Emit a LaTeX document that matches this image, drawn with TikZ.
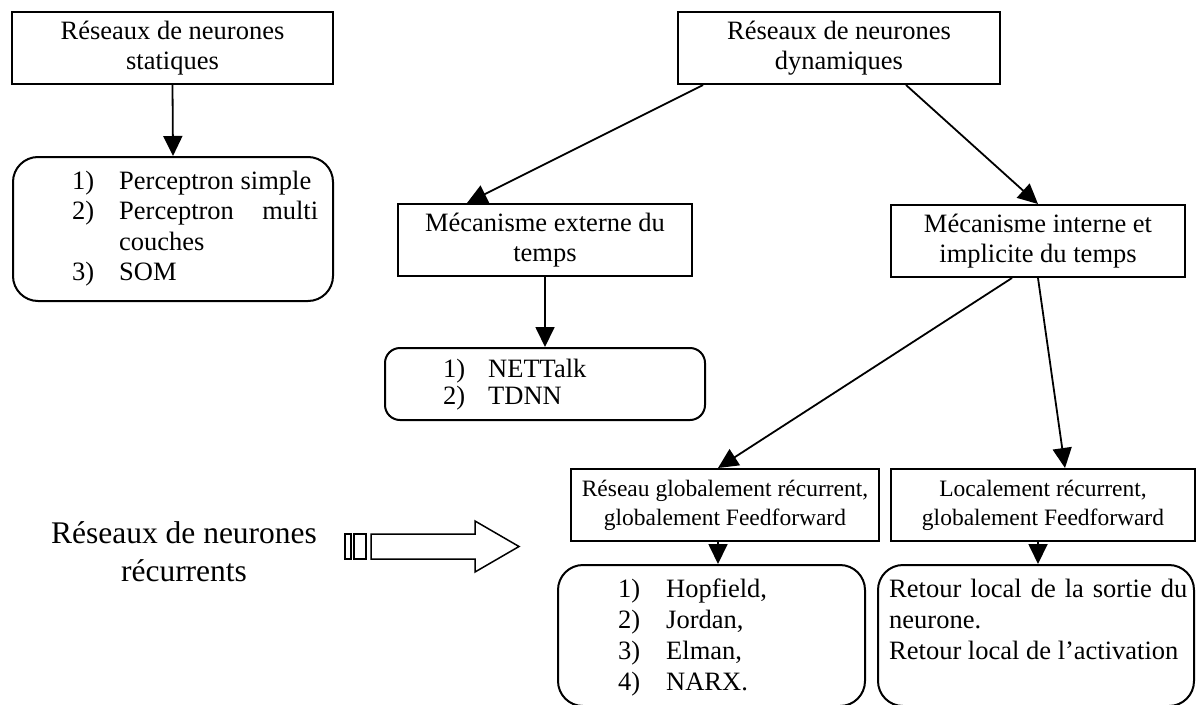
\documentclass[tikz,border=0pt]{standalone}
\usepackage{fontspec}
\setmainfont{Liberation Serif}
\usetikzlibrary{arrows.meta}
\newcommand\fsmain{\fontsize{26.5}{30.5}\selectfont}
\newcommand\fssmall{\fontsize{23.5}{29}\selectfont}
\newcommand\fsbig{\fontsize{31.5}{38}\selectfont}
\begin{document}
\begin{tikzpicture}[x=1pt,y=-1pt]
\tikzset{
  rect/.style={draw, line width=2pt, inner sep=0pt, align=center, font=\fsmain},
  rlist/.style={draw, line width=2pt, rounded corners=25pt, inner sep=0pt},
  conn/.style={line width=1.8pt, -{Triangle[length=20pt,width=19pt]}},
  txt/.style={inner sep=0pt, font=\fsmain, anchor=base west},
  hollow/.style={draw, line width=1.5pt}
}
\fill[white] (0,0) rectangle (1196,704);
\useasboundingbox (0,0) rectangle (1196,704);

% rectangular boxes
\node[rect, minimum width=321pt, minimum height=72pt] (stat) at (172.5,48) {Réseaux de neurones\\statiques};
\node[rect, minimum width=322pt, minimum height=72pt] (dyn) at (839,48) {Réseaux de neurones\\dynamiques};
\node[rect, minimum width=294pt, minimum height=72pt] (ext) at (545,240) {Mécanisme externe du\\temps};
\node[rect, minimum width=294pt, minimum height=72pt] (int) at (1038,241) {Mécanisme interne et\\implicite du temps};
\node[rect, font=\fssmall, minimum width=308pt, minimum height=72pt] (glob) at (725,505) {Réseau globalement récurrent,\\globalement Feedforward};
\node[rect, font=\fssmall, minimum width=304pt, minimum height=72pt] (loc) at (1043,505) {Localement récurrent,\\globalement Feedforward};

% rounded list boxes
\node[rlist, minimum width=320pt, minimum height=144pt] (slist) at (173,229) {};
\node[rlist, rounded corners=15pt, minimum width=320pt, minimum height=72pt] (nlist) at (545,384) {};
\node[rlist, minimum width=307pt, minimum height=141pt] (glist) at (711.5,635.5) {};
\node[rlist, minimum width=316pt, minimum height=141pt] (llist) at (1036,635.5) {};

% list texts
\node[txt] (slt) at (72,189) {\begin{tabular}[t]{@{}p{47pt}@{}l@{}}1) & Perceptron simple\\ 2) & \makebox[199pt][s]{Perceptron multi}\\ & couches\\ 3) & SOM\end{tabular}};
\node[txt, font=\fontsize{26.5}{27}\selectfont] (nlt) at (443,377) {\begin{tabular}[t]{@{}p{45pt}@{}l@{}}1) & NETTalk\\ 2) & TDNN\end{tabular}};
\node[txt, font=\fontsize{26.5}{31}\selectfont] (glt) at (618,597) {\begin{tabular}[t]{@{}p{48pt}@{}l@{}}1) & Hopfield,\\ 2) & Jordan,\\ 3) & Elman,\\ 4) & NARX.\end{tabular}};
\node[txt, font=\fontsize{26.5}{31}\selectfont] (llt) at (889,597) {\begin{tabular}[t]{@{}l@{}}\makebox[298pt][s]{Retour local de la sortie du}\\ neurone.\\ Retour local de l’activation\end{tabular}};

% left label
\node[font=\fsbig, align=center, inner sep=0pt] (rec) at (184,552) {Réseaux de neurones\\récurrents};

% hollow block arrow
\draw[hollow] (345,534) rectangle (351,559);
\draw[hollow] (354,534) rectangle (366,559);
\draw[hollow] (371,534) -- (475,534) -- (475,521) -- (519,546.5) -- (475,572) -- (475,559) -- (371,559) -- cycle;

% connectors
\draw[conn] (stat.south) -- (slist.north);
\draw[conn] ([xshift=-136pt]dyn.south) -- ([xshift=-78pt]ext.north);
\draw[conn] ([xshift=67pt]dyn.south) -- (int.north);
\draw[conn] (ext.south) -- (nlist.north);
\draw[conn] ([xshift=-26pt]int.south) -- ([xshift=-7pt]glob.north);
\draw[conn] (int.south) -- ([xshift=22pt]loc.north);
\draw[conn] ([xshift=-7pt]glob.south) -- ([xshift=6.5pt]glist.north);
\draw[conn] ([xshift=-5pt]loc.south) -- ([xshift=2pt]llist.north);
\end{tikzpicture}
\end{document}
